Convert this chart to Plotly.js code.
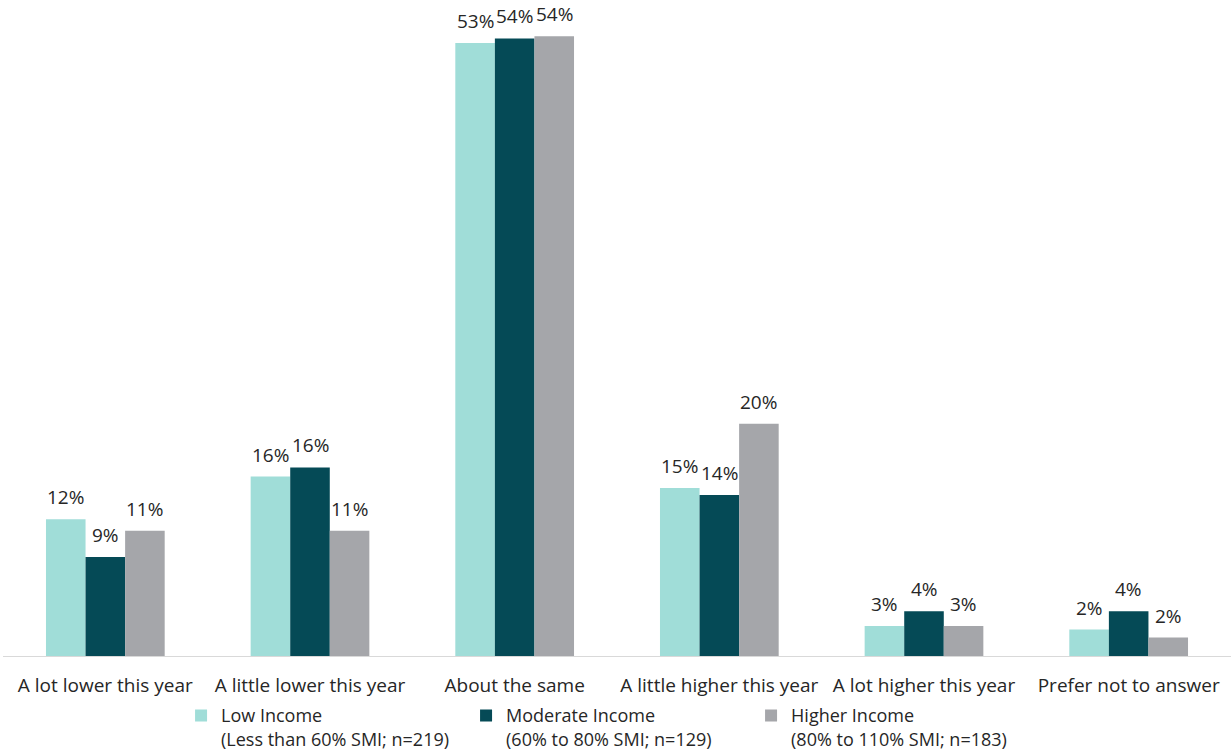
<!DOCTYPE html>
<html>
<head>
<meta charset="utf-8">
<script src="https://cdn.plot.ly/plotly-3.0.1.min.js"></script>
<style>html,body{margin:0;padding:0;background:#fff;}#chart{width:1231px;height:755px;}</style>
</head>
<body>
<div id="chart"></div>
<script>
const categories = ["A lot lower this year", "A little lower this year", "About the same", "A little higher this year", "A lot higher this year", "Prefer not to answer"];
const seriesNames = ["Low Income<br>(Less than 60% SMI; n=219)", "Moderate Income<br>(60% to 80% SMI; n=129)", "Higher Income<br>(80% to 110% SMI; n=183)"];
const lowIncome = [11.9, 15.6, 53.3, 14.6, 2.6, 2.3];
const moderateIncome = [8.6, 16.4, 53.7, 14.0, 3.9, 3.9];
const higherIncome = [10.9, 10.9, 53.9, 20.2, 2.6, 1.6];
const colors = ["#a0ddd8", "#054a56", "#a5a6aa"];

const seriesValues = [lowIncome, moderateIncome, higherIncome];
const font = "Open Sans, Noto Sans, sans-serif";
const textColor = "#262626";
const bargap = 0.42;
const traces = seriesValues.map((vals, i) => ({
  type: "bar",
  name: seriesNames[i],
  x: categories,
  y: vals,
  marker: {color: colors[i]},
  hoverinfo: "skip"
}));

// value labels placed above each bar (grouped offsets derived from bargap)
const barW = (1 - bargap) / seriesValues.length;
const annotations = [];
seriesValues.forEach((vals, i) => {
  vals.forEach((v, j) => {
    annotations.push({
      x: j + (i - (seriesValues.length - 1) / 2) * barW,
      y: v, xref: "x", yref: "y",
      text: Math.round(v) + "%",
      showarrow: false, yanchor: "bottom", xanchor: "center", yshift: 7,
      font: {family: font, size: 19, color: textColor}
    });
  });
});

const layout = {
  width: 1231, height: 755,
  margin: {l: 3, r: 0, t: 12, b: 99, autoexpand: false},
  paper_bgcolor: "#fff", plot_bgcolor: "#fff",
  barmode: "group",
  bargap: bargap, bargroupgap: 0,
  font: {family: font, size: 19, color: textColor},
  xaxis: {
    showline: true, linecolor: "#d9d9d9", linewidth: 1,
    ticks: "outside", ticklen: 12, tickcolor: "rgba(0,0,0,0)",
    tickfont: {family: font, size: 19, color: textColor},
    showgrid: false, zeroline: false, fixedrange: true
  },
  yaxis: {range: [0, 56], visible: false, showgrid: false, zeroline: false, fixedrange: true},
  annotations: annotations,
  showlegend: true,
  legend: {
    orientation: "h", x: 0.145, xanchor: "left", y: -0.064, yanchor: "top",
    valign: "top", font: {family: font, size: 18, color: textColor},
    traceorder: "normal", itemwidth: 30, entrywidth: 240, entrywidthmode: "pixels",
    tracegroupgap: 0
  }
};

Plotly.newPlot("chart", traces, layout, {displayModeBar: false, staticPlot: true});
</script>
</body>
</html>
